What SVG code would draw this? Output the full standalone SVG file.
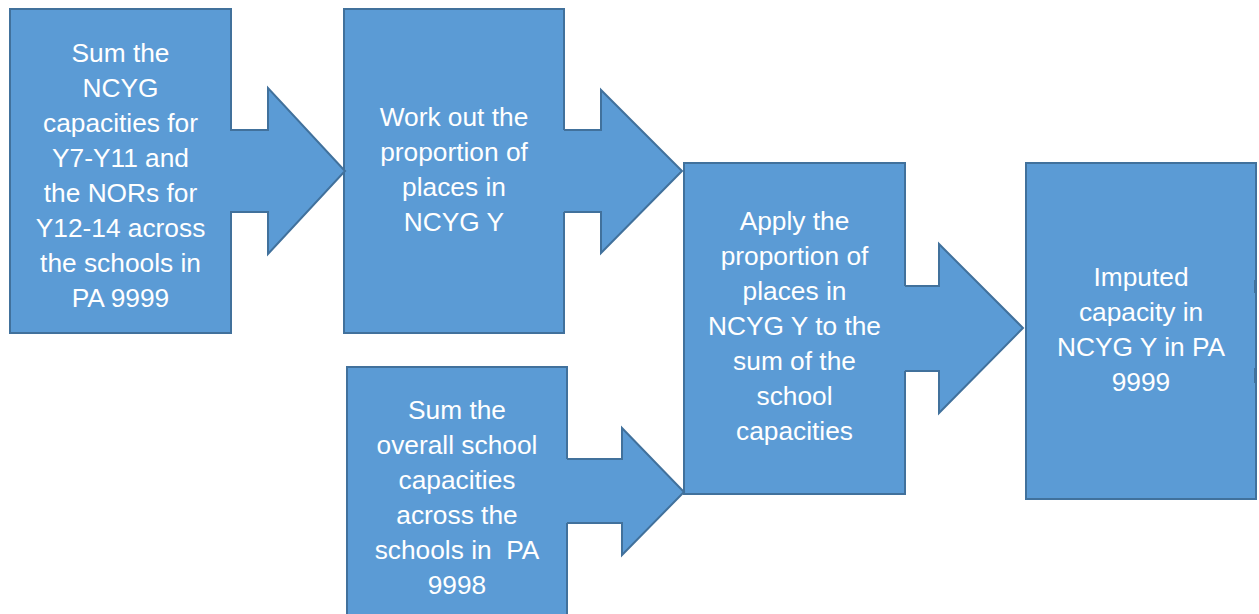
<svg xmlns="http://www.w3.org/2000/svg" width="1259" height="614" viewBox="0 0 1259 614">
<style>
.box{fill:#5B9BD5;stroke:#41719C;stroke-width:2}
.af{fill:#5B9BD5;stroke:none}
.as{fill:none;stroke:#41719C;stroke-width:2;stroke-linejoin:miter}
.t{font-family:"Liberation Sans",Arial,sans-serif;font-size:26.3px;fill:#FFFFFF;text-anchor:middle}
</style>
<rect width="1259" height="614" fill="#FFFFFF"/>
<g id="node1">
<rect class="box" x="10" y="9" width="221" height="324"/>
<text class="t"><tspan x="120.5" y="62">Sum the</tspan><tspan x="120.5" y="97">NCYG</tspan><tspan x="120.5" y="132">capacities for</tspan><tspan x="120.5" y="167">Y7-Y11 and</tspan><tspan x="120.5" y="202">the NORs for</tspan><tspan x="120.5" y="237">Y12-14 across</tspan><tspan x="120.5" y="272">the schools in</tspan><tspan x="120.5" y="307">PA 9999</tspan></text>
</g>
<g id="node2">
<rect class="box" x="344" y="9" width="220" height="324"/>
<text class="t"><tspan x="454" y="126">Work out the</tspan><tspan x="454" y="161">proportion of</tspan><tspan x="454" y="196">places in</tspan><tspan x="454" y="231">NCYG Y</tspan></text>
</g>
<g id="node3">
<rect class="box" x="347" y="367" width="220" height="260"/>
<text class="t"><tspan x="457" y="419">Sum the</tspan><tspan x="457" y="454">overall school</tspan><tspan x="457" y="489">capacities</tspan><tspan x="457" y="524">across the</tspan><tspan x="457" y="559">schools in&#160; PA</tspan><tspan x="457" y="594">9998</tspan></text>
</g>
<g id="node4">
<rect class="box" x="684" y="163" width="221" height="331"/>
<text class="t"><tspan x="794.5" y="230">Apply the</tspan><tspan x="794.5" y="265">proportion of</tspan><tspan x="794.5" y="300">places in</tspan><tspan x="794.5" y="335">NCYG Y to the</tspan><tspan x="794.5" y="370">sum of the</tspan><tspan x="794.5" y="405">school</tspan><tspan x="794.5" y="440">capacities</tspan></text>
</g>
<g id="node5">
<rect class="box" x="1026" y="163" width="230" height="336"/>
<text class="t"><tspan x="1141" y="286">Imputed</tspan><tspan x="1141" y="321">capacity in</tspan><tspan x="1141" y="356">NCYG Y in PA</tspan><tspan x="1141" y="391">9999</tspan></text>
<rect x="1254" y="280" width="2.5" height="13" fill="#41719C"/>
<rect x="1254" y="368" width="2.5" height="15" fill="#41719C"/>
</g>
<g id="connectors">
<path class="af" d="M229,130 H268 V88 L345,171 L268,254 V212 H229 Z"/>
<path class="as" d="M230,130 H268 V88 L345,171 L268,254 V212 H230"/>
<path class="af" d="M563,130 H601 V90 L682,171 L601,253 V212 H563 Z"/>
<path class="as" d="M564,130 H601 V90 L682,171 L601,253 V212 H564"/>
<path class="af" d="M566,459 H622 V428 L684,492 L622,555 V523 H566 Z"/>
<path class="as" d="M567,459 H622 V428 L684,492 L622,555 V523 H567"/>
<path class="af" d="M904,286 H939 V244 L1023,328 L939,413 V371 H904 Z"/>
<path class="as" d="M905,286 H939 V244 L1023,328 L939,413 V371 H905"/>
</g>
</svg>
